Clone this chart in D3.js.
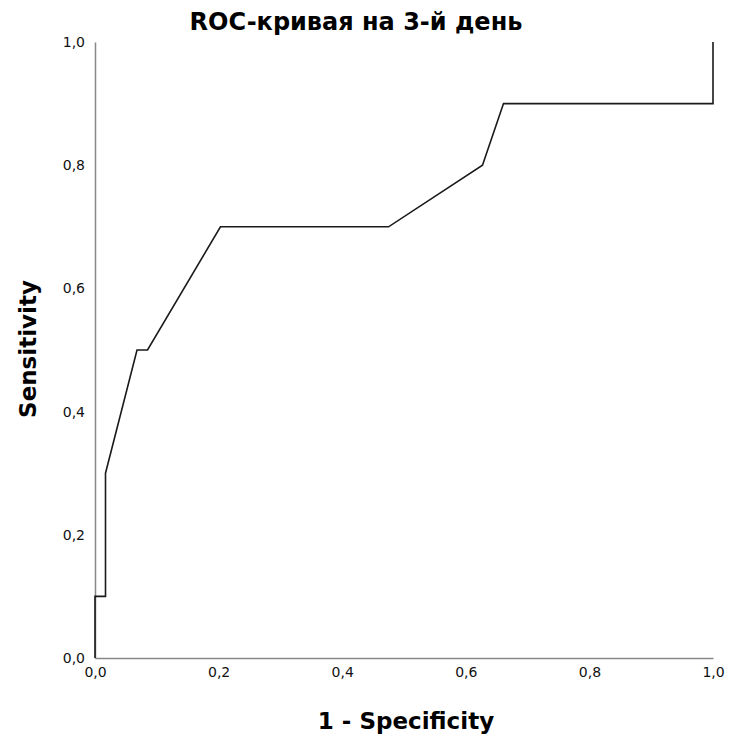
<!DOCTYPE html>
<html>
<head>
<meta charset="utf-8">
<script src="https://cdn.jsdelivr.net/npm/d3@7"></script>
<style>
  body { margin: 0; background: #fff; }
  text { font-family: "DejaVu Sans", Verdana, sans-serif; }
</style>
</head>
<body>
<svg id="chart" width="729" height="737"></svg>
<script>
// данные ROC-кривой (1 - специфичность, чувствительность)
const fpr = [0, 0, 0.017, 0.017, 0.068, 0.085, 0.203, 0.475, 0.627, 0.661, 1, 1];
const tpr = [0, 0.1, 0.1, 0.3, 0.5, 0.5, 0.7, 0.7, 0.8, 0.9, 0.9, 1];
const ticks = [0, 0.2, 0.4, 0.6, 0.8, 1];

const svg = d3.select("#chart");

const x = d3.scaleLinear().domain([0, 1]).range([95, 713]);
const y = d3.scaleLinear().domain([0, 1]).range([658, 42]);

const fmt = d => d3.format(".1f")(d).replace(".", ",");

// Оси
const xAxis = svg.append("g")
  .attr("transform", "translate(0,658)")
  .call(d3.axisBottom(x).tickValues(ticks).tickSize(0).tickPadding(9).tickFormat(fmt));

const yAxis = svg.append("g")
  .attr("transform", "translate(95,0)")
  .call(d3.axisLeft(y).tickValues(ticks).tickSize(0).tickPadding(10).tickFormat(fmt));

[xAxis, yAxis].forEach(g => {
  g.attr("font-size", 14);
  g.select(".domain").attr("stroke", "#888").attr("stroke-width", 1.5);
  g.selectAll("text").attr("fill", "#111")
    .style("font-family", "'DejaVu Sans', Verdana, sans-serif");
});

// Кривая
const line = d3.line().x(d => x(d[0])).y(d => y(d[1]));
svg.append("path")
  .datum(fpr.map((d, i) => [d, tpr[i]]))
  .attr("d", line)
  .attr("fill", "none")
  .attr("stroke", "#1a1a1a")
  .attr("stroke-width", 1.6);

// Заголовок и подписи осей
svg.append("text")
  .attr("x", 356).attr("y", 30)
  .attr("text-anchor", "middle")
  .attr("font-size", 24).attr("font-weight", "bold")
  .text("ROC-кривая на 3-й день");

svg.append("text")
  .attr("x", 406).attr("y", 729)
  .attr("text-anchor", "middle")
  .attr("font-size", 23).attr("font-weight", "bold")
  .text("1 - Specificity");

svg.append("text")
  .attr("transform", "translate(36,349) rotate(-90)")
  .attr("text-anchor", "middle")
  .attr("font-size", 23).attr("font-weight", "bold")
  .text("Sensitivity");
</script>
</body>
</html>
